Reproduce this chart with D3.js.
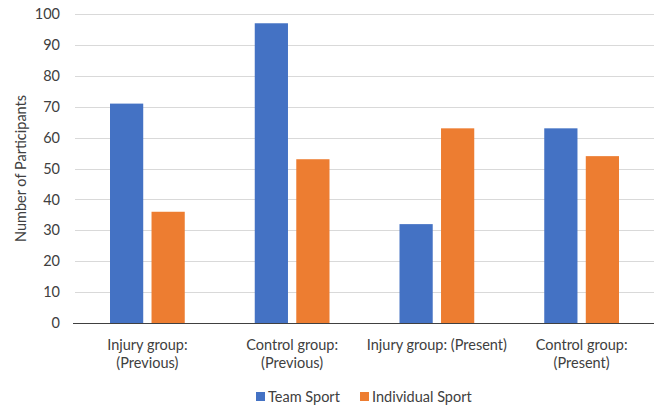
<!DOCTYPE html>
<html><head><meta charset="utf-8">
<script src="https://cdn.jsdelivr.net/npm/d3@7"></script>
<style>body{margin:0;background:#fff}svg{display:block}text{font-family:Lato,"Open Sans",sans-serif;fill:#404040}</style>
</head><body>
<svg id="c" width="658" height="405"></svg>
<script>
const categories = ["Injury group: (Previous)", "Control group: (Previous)", "Injury group: (Present)", "Control group: (Present)"];
const categoryLines = [["Injury group:", "(Previous)"], ["Control group:", "(Previous)"], ["Injury group: (Present)"], ["Control group:", "(Present)"]];
const seriesNames = ["Team Sport", "Individual Sport"];
const teamSport = [71, 97, 32, 63];
const individualSport = [36, 53, 63, 54];
const yTicks = [0, 10, 20, 30, 40, 50, 60, 70, 80, 90, 100];
const colors = ["#4472C4", "#ED7D31"];

const svg = d3.select("#c");
const m = {l: 75, r: 4, t: 14, b: 82};
const W = 658, H = 405;
const FS = "14.5px";
const x = d3.scaleBand().domain(categories).range([m.l, W - m.r]).paddingInner(0).paddingOuter(0);
const x1 = d3.scaleBand().domain(seriesNames).range([35, x.bandwidth() - 35]).paddingInner(0.2);
const y = d3.scaleLinear().domain([0, 100]).range([H - m.b, m.t]);

// gridlines
svg.append("g").selectAll("line").data(yTicks.filter(d => d > 0)).join("line")
  .attr("x1", m.l).attr("x2", W - m.r)
  .attr("y1", d => Math.round(y(d)) + 0.5).attr("y2", d => Math.round(y(d)) + 0.5)
  .attr("stroke", "#d9d9d9").attr("stroke-width", 1);

// y axis labels
const yAxis = d3.axisLeft(y).tickValues(yTicks).tickSize(0).tickPadding(15);
const ga = svg.append("g").attr("transform", `translate(${m.l},0)`).call(yAxis);
ga.select(".domain").remove();
ga.selectAll("text").style("font-size", FS).style("font-family", "Lato").attr("fill", "#404040");

// bars
const data = categories.map((c, i) => ({c, vals: [teamSport[i], individualSport[i]]}));
const g = svg.append("g").selectAll("g").data(data).join("g").attr("transform", d => `translate(${x(d.c)},0)`);
g.selectAll("rect").data(d => d.vals.map((v, j) => ({v, s: seriesNames[j], j}))).join("rect")
  .attr("x", d => x1(d.s)).attr("width", x1.bandwidth())
  .attr("y", d => y(d.v)).attr("height", d => y(0) - y(d.v))
  .attr("fill", d => colors[d.j]);

// x axis line
svg.append("line").attr("x1", m.l - 2).attr("x2", W - m.r).attr("y1", y(0) + 0.5).attr("y2", y(0) + 0.5)
  .attr("stroke", "#404040").attr("stroke-width", 1.2);

// x labels
const xl = svg.append("g").selectAll("text").data(categories).join("text")
  .attr("x", d => x(d) + x.bandwidth() / 2).attr("y", y(0) + 27)
  .attr("text-anchor", "middle").style("font-size", FS);
xl.selectAll("tspan").data((d, i) => categoryLines[i]).join("tspan")
  .attr("x", function() { return d3.select(this.parentNode).attr("x"); })
  .attr("dy", (d, i) => i === 0 ? 0 : 18).text(d => d);

// y title
svg.append("text").attr("transform", `translate(26,${(m.t + y(0)) / 2}) rotate(-90)`)
  .attr("text-anchor", "middle").style("font-size", FS).text("Number of Participants");

// legend
const legX = [256, 360];
const lg = svg.append("g").selectAll("g").data(seriesNames).join("g")
  .attr("transform", (d, i) => `translate(${legX[i]},392)`);
lg.append("rect").attr("width", 9).attr("height", 9).attr("fill", (d, i) => colors[i]);
lg.append("text").attr("x", 12).attr("y", 10).style("font-size", FS).text(d => d);
</script>
</body></html>
